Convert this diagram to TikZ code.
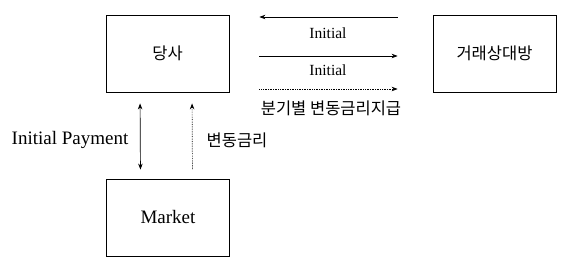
\documentclass[tikz,border=0pt]{standalone}
\usepackage{fontspec}
\setmainfont{Liberation Serif}
\newfontfamily\krfont{Noto Sans CJK KR}
\usetikzlibrary{arrows.meta}

\begin{document}
\begin{tikzpicture}[
  x=1pt, y=-1pt,
  font=\fontsize{15.5pt}{18pt}\selectfont,
  >={Stealth[length=6pt,width=4.5pt]},
  party/.style={rectangle, draw=black, line width=0.8pt, fill=white,
                minimum width=123pt, minimum height=77pt, inner sep=2pt},
  flow/.style={line width=0.7pt},
  lbl/.style={inner sep=1pt},
  big/.style={font=\fontsize{19pt}{22pt}\selectfont},
  kr/.style={font=\fontsize{16.5pt}{20pt}\selectfont\krfont},
]
\useasboundingbox (0,0) rectangle (580,264);

% ================= NODES (explicit coords, px) =================
\node[party, kr]              (company)  at (167.5,53.5) {당사};
\node[party, kr]              (partner)  at (494.5,53.5) {거래상대방};
\node[party, big]             (market)   at (168,217.5)  {Market};

\node[lbl]                    (initA)    at (328,33)     {Initial};
\node[lbl]                    (initB)    at (328,70)     {Initial};
\node[lbl, kr]                (quarter)  at (331,108)    {분기별 변동금리지급};
\node[lbl, big]               (initpay)  at (70,140)     {Initial Payment};
\node[lbl, kr]                (floating) at (237,140)    {변동금리};

% ================= EDGES =================
\draw[flow, <-, shorten <=30pt, shorten >=35pt]
  ([yshift=36.5pt]company.east) -- ([yshift=36.5pt]partner.west);
\draw[flow, ->, shorten <=30pt, shorten >=35pt]
  ([yshift=-2.5pt]company.east) -- ([yshift=-2.5pt]partner.west);
\draw[flow, ->, densely dotted, shorten <=30pt, shorten >=35pt]
  ([yshift=-35.5pt]company.east) -- ([yshift=-35.5pt]partner.west);

\draw[flow, <->, shorten <=11pt, shorten >=9pt]
  ([xshift=-27.5pt]company.south) -- ([xshift=-27.5pt]market.north);
\draw[flow, <-, densely dotted, shorten <=11pt, shorten >=9pt]
  ([xshift=24.5pt]company.south) -- ([xshift=24.5pt]market.north);

\end{tikzpicture}
\end{document}
